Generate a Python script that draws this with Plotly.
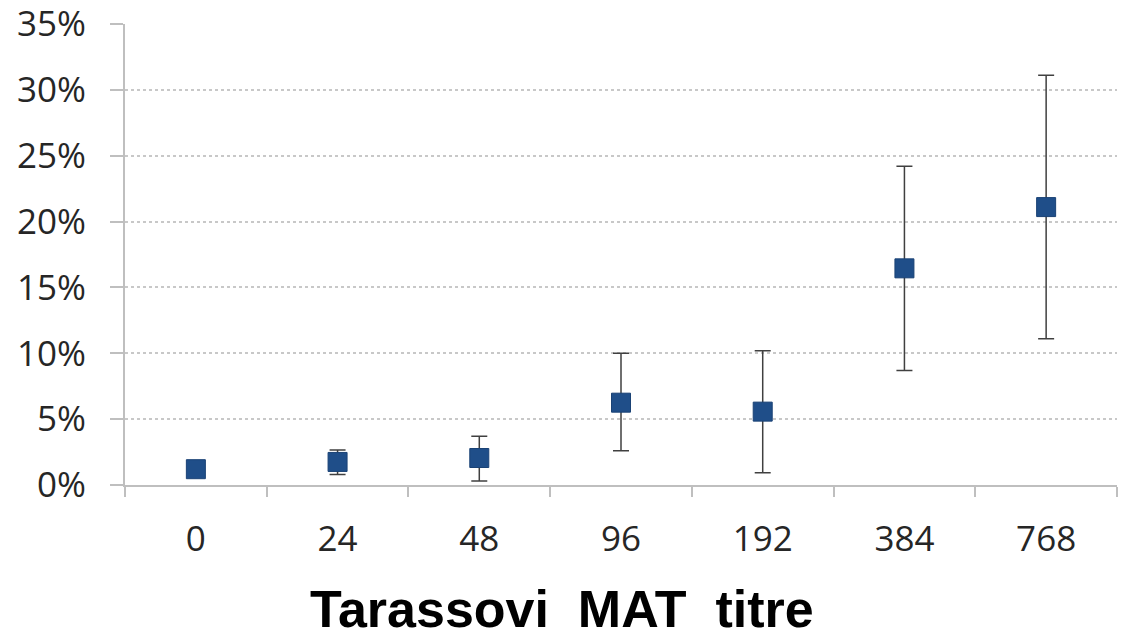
import plotly.graph_objects as go

categories = ["0", "24", "48", "96", "192", "384", "768"]
values = [0.012, 0.0175, 0.0205, 0.0625, 0.0557, 0.1645, 0.211]
upper = [0.012, 0.0265, 0.037, 0.100, 0.102, 0.242, 0.311]
lower = [0.012, 0.008, 0.003, 0.026, 0.0093, 0.087, 0.111]
y_ticks = [0, 0.05, 0.10, 0.15, 0.20, 0.25, 0.30, 0.35]
y_ticktext = ["0%", "5%", "10%", "15%", "20%", "25%", "30%", "35%"]

err_plus = [u - v for u, v in zip(upper, values)]
err_minus = [v - l for v, l in zip(values, lower)]

fig = go.Figure()
fig.add_trace(go.Scatter(
    x=categories, y=values, mode="markers",
    marker=dict(symbol="square", size=19, color="#1f4e89",
                line=dict(color="#1a4275", width=1)),
    error_y=dict(type="data", symmetric=False, array=err_plus, arrayminus=err_minus,
                 color="#404040", thickness=1.5, width=8),
    showlegend=False,
))

fig.update_layout(
    width=1119, height=629,
    margin=dict(l=117, r=10, t=16, b=152, autoexpand=False),
    plot_bgcolor="white", paper_bgcolor="white",
    font=dict(family="Open Sans", color="#262626"),
    xaxis=dict(type="category", range=[-0.5, 6.5], showgrid=False, showline=True,
               linecolor="#bfbfbf", linewidth=2,
               ticks="outside", tickson="boundaries", ticklen=10, tickcolor="#bfbfbf", tickwidth=2,
               tickfont=dict(size=35), ticklabelstandoff=22),
    yaxis=dict(range=[0, 0.35], tickvals=y_ticks, ticktext=y_ticktext,
               showgrid=True, gridcolor="#c8c8c8", griddash="dot", gridwidth=2,
               showline=True, linecolor="#bfbfbf", linewidth=2, zeroline=False,
               ticks="outside", ticklen=13, tickcolor="#bfbfbf", tickwidth=2,
               tickfont=dict(size=35), ticklabelstandoff=17, ticklabeloverflow="allow"),
    annotations=[dict(text="<b>Tarassovi  MAT  titre</b>", xref="paper", yref="paper",
                      x=(562 - 125) / 992, y=-(609 - 485) / 461, xanchor="center", yanchor="middle",
                      showarrow=False, font=dict(family="Liberation Sans", size=52, color="#000000"))],
)

fig.write_html("out.html")
